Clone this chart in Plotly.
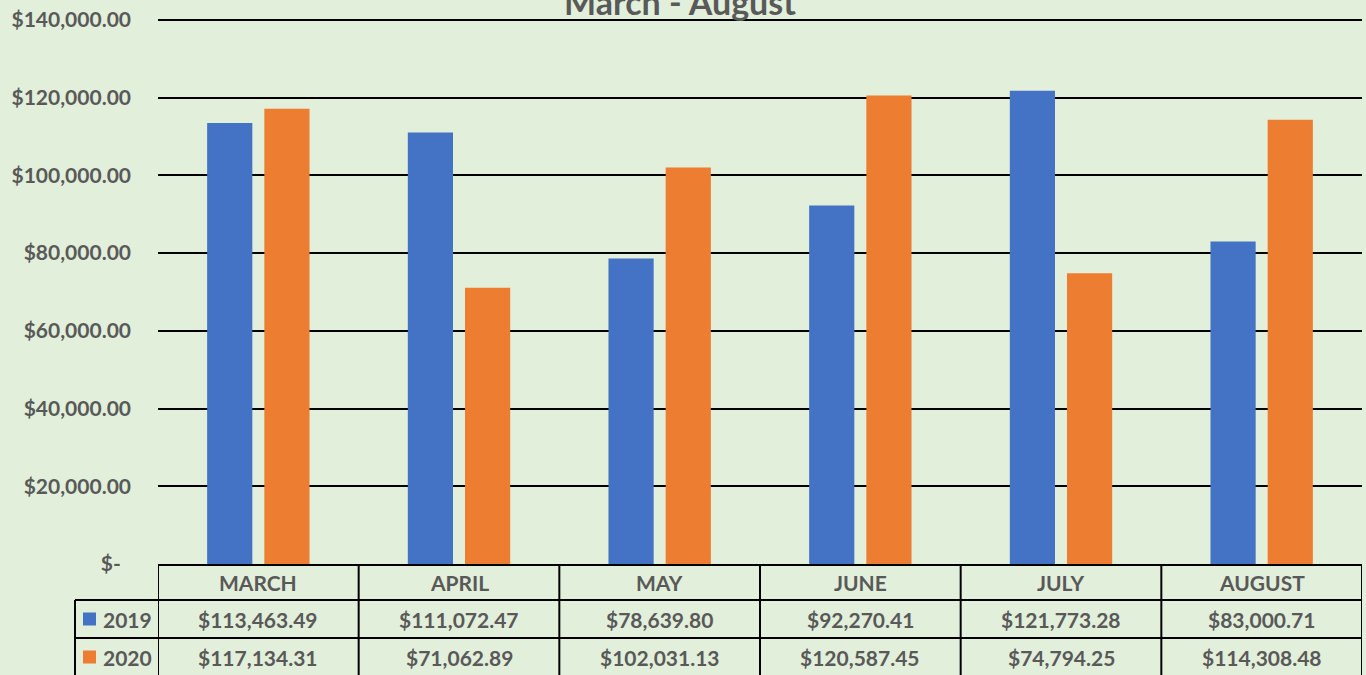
import plotly.graph_objects as go

months = ["MARCH", "APRIL", "MAY", "JUNE", "JULY", "AUGUST"]
series_names = ["2019", "2020"]
v2019 = [113463.49, 111072.47, 78639.80, 92270.41, 121773.28, 83000.71]
v2020 = [117134.31, 71062.89, 102031.13, 120587.45, 74794.25, 114308.48]
tick_vals = [0, 20000, 40000, 60000, 80000, 100000, 120000, 140000]
tick_text = ["$-\u00a0\u00a0", "$20,000.00", "$40,000.00", "$60,000.00", "$80,000.00",
             "$100,000.00", "$120,000.00", "$140,000.00"]
title_text = "March - August"

BG = "#E2EFDA"
TXT = "#595959"
colors = ["#4472C4", "#ED7D31"]
FONT = "Lato"
FS = 21

W, H = 1366, 675
L, R, T, B = 158, 1362, 20, 564


def px(xp):
    return (xp - L) / (R - L)


def py(yp):
    return (B - yp) / (B - T)


fig = go.Figure()
for name, vals, c in zip(series_names, [v2019, v2020], colors):
    fig.add_trace(go.Bar(x=list(range(len(months))), y=vals, name=name,
                         marker=dict(color=c, line=dict(width=0))))

shapes = []
ann = []
# top gridline at the axis maximum (paper ref so it is not clipped)
shapes.append(dict(type="line", xref="paper", yref="paper", x0=0, x1=1,
                   y0=1, y1=1, line=dict(color="black", width=2), layer="below"))
for yy in [600, 638, 676]:
    shapes.append(dict(type="line", xref="paper", yref="paper", x0=px(75), x1=1,
                       y0=py(yy), y1=py(yy), line=dict(color="black", width=2)))
for k in range(len(months) + 1):
    shapes.append(dict(type="line", xref="x", yref="paper", x0=k - 0.5, x1=k - 0.5,
                       y0=0, y1=py(700), line=dict(color="black", width=2)))
shapes.append(dict(type="line", xref="paper", yref="paper", x0=px(75), x1=px(75),
                   y0=py(600), y1=py(700), line=dict(color="black", width=2)))

tfont = dict(family=FONT, size=FS, color=TXT, weight="bold")
for k, m in enumerate(months):
    ann.append(dict(x=k, y=py(582), xref="x", yref="paper", text=m, showarrow=False,
                    font=tfont, xanchor="center", yanchor="middle"))
row_cy = [619, 657]
for r, (name, vals, c) in enumerate(zip(series_names, [v2019, v2020], colors)):
    for k, v in enumerate(vals):
        ann.append(dict(x=k, y=py(row_cy[r]), xref="x", yref="paper",
                        text=f"${v:,.2f}", showarrow=False, font=tfont,
                        xanchor="center", yanchor="middle"))
    shapes.append(dict(type="rect", xref="paper", yref="paper", x0=px(83), x1=px(96),
                       y0=py(row_cy[r] - 6.5), y1=py(row_cy[r] + 6.5),
                       fillcolor=c, line=dict(width=0)))
    ann.append(dict(x=px(101), y=py(row_cy[r]), xref="paper", yref="paper", text=name,
                    showarrow=False, font=tfont, xanchor="left", yanchor="middle"))

ann.append(dict(x=px(680), y=py(2), xref="paper", yref="paper", text=title_text,
                showarrow=False, font=dict(family=FONT, size=34, color=TXT, weight="bold"),
                xanchor="center", yanchor="middle"))

fig.update_layout(
    width=W, height=H,
    margin=dict(l=L, r=W - R, t=T, b=H - B, pad=0),
    paper_bgcolor=BG, plot_bgcolor=BG,
    showlegend=False,
    barmode="group", bargap=0.43, bargroupgap=0.21,
    shapes=shapes, annotations=ann,
    xaxis=dict(range=[-0.5, len(months) - 0.5], showticklabels=False, showgrid=False,
               zeroline=False, showline=True, linecolor="black", linewidth=2, ticks=""),
    yaxis=dict(range=[0, 140000], tickvals=tick_vals, ticktext=tick_text,
               showgrid=True, gridcolor="black", gridwidth=2, zeroline=False,
               showline=False, ticks="", ticklabelstandoff=26,
               tickfont=tfont),
)

fig.write_html("out.html", config={"displayModeBar": False},
               post_script="document.body.style.margin='0';document.body.style.background='#E2EFDA';document.body.style.overflow='hidden';")
